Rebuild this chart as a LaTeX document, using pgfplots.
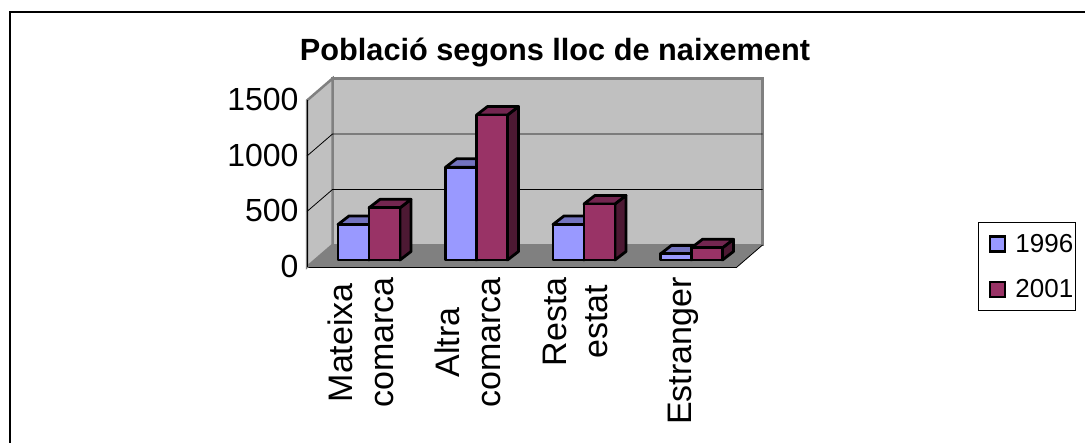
\documentclass[border=0pt]{standalone}
\usepackage{fontspec}
\setmainfont{Liberation Sans}
\usepackage{pgfplots}
\pgfplotsset{compat=1.18}
\definecolor{cA}{HTML}{9999FF}
\definecolor{cAt}{HTML}{7373BF}
\definecolor{cAs}{HTML}{4D4D80}
\definecolor{cB}{HTML}{993366}
\definecolor{cBt}{HTML}{732650}
\definecolor{cBs}{HTML}{4D1933}
\definecolor{wall}{HTML}{C0C0C0}
\definecolor{floorc}{HTML}{808080}
% #1 category centre (axis x), #2 left offset in pt, #3 value, #4 top colour, #5 side colour
\newcommand\barfaces[5]{%
  \pgfmathsetmacro\xL{#1+(#2)/107.5}%
  \pgfmathsetmacro\xR{#1+(#2+31)/107.5}%
  \pgfmathsetmacro\xLb{#1+(#2+11)/107.5}%
  \pgfmathsetmacro\xRb{#1+(#2+42)/107.5}%
  \pgfmathsetmacro\yB{7/0.111}%
  \pgfmathsetmacro\yT{7/0.111+#3}%
  \pgfmathsetmacro\yBb{15.5/0.111}%
  \pgfmathsetmacro\yTb{15.5/0.111+#3}%
  \addplot[forget plot,fill=#5,draw=black,line width=2.8pt,line join=round] coordinates {(\xR,\yB) (\xRb,\yBb) (\xRb,\yTb) (\xR,\yT)} --cycle;
  \addplot[forget plot,fill=#4,draw=black,line width=2.8pt,line join=round] coordinates {(\xL,\yT) (\xR,\yT) (\xRb,\yTb) (\xLb,\yTb)} --cycle;
}
\begin{document}
\begin{tikzpicture}[x=1pt,y=1pt]
\path[use as bounding box,fill=white] (0,0) rectangle (1085,443);
\draw[line width=1.2pt,black] (10,0) -- (10,431) -- (1085,431);
\begin{axis}[
  at={(307pt,176pt)},anchor=south west,
  scale only axis,width=430pt,height=166.5pt,
  xmin=0,xmax=4,ymin=0,ymax=1500,clip=false,
  axis line style={line width=0.8pt,black},
  axis x line*=bottom,axis y line*=left,
  axis line style={-},
  xtick={0.5,1.5,2.5,3.5},
  xticklabels={{Mateixa\\comarca},{Altra\\comarca},{Resta\\estat},{Estranger}},
  minor xtick={0,1,2,3,4},
  major x tick style={draw=none},
  minor tick length=4pt,
  minor tick style={black,line width=0.8pt},
  ytick={0,500,1000,1500},
  major y tick style={black,line width=0.8pt},
  major tick length=4pt,
  xticklabel style={rotate=90,anchor=east,align=center,font=\fontsize{34}{41}\selectfont,yshift=0pt,xshift=-7pt},
  yticklabel style={font=\fontsize{32}{36}\selectfont,/pgf/number format/assume math mode=true,xshift=-5pt,yshift=1pt},
  scaled y ticks=false,
  /pgf/number format/1000 sep={},
  title={\bfseries Població segons lloc de naixement},
  title style={at={(axis description cs:0.5767,1.25)},anchor=center,font=\fontsize{30.7}{34}\selectfont},
  legend style={at={(axis description cs:1.5605,0.27)},anchor=north west,draw=black,line width=0.8pt,
    font=\fontsize{26}{30}\selectfont,inner xsep=0pt,inner ysep=9.5pt,row sep=22pt,cells={anchor=west}},
  legend cell align=left,
  legend image code/.code={\path (0pt,0pt) (32.5pt,0pt); \draw[#1] (10.5pt,-7.5pt) rectangle (25.5pt,7.5pt);},
]
\addlegendimage{fill=cA,draw=black,line width=2.5pt}
\addlegendentry{1996}
\addlegendimage{fill=cB,draw=black,line width=2.5pt}
\addlegendentry{2001}
% walls and floor
\addplot[forget plot,fill=wall,draw=floorc,line width=2.5pt] coordinates {(0.2372,198) (4.2372,198) (4.2372,1698) (0.2372,1698)} --cycle;
\addplot[forget plot,fill=wall,draw=floorc,line width=2.5pt] coordinates {(0,0) (0.2372,198) (0.2372,1698) (0,1500)} --cycle;
\addplot[forget plot,fill=floorc,draw=none] coordinates {(0,0) (4,0) (4.2372,198) (0.2372,198)} --cycle;
\addplot[forget plot,black,line width=0.8pt] coordinates {(4,0) (4.2372,198)};
\addplot[forget plot,black,line width=0.8pt] coordinates {(0,500) (0.2372,698) (4.2372,698)};
\addplot[forget plot,black,line width=0.8pt] coordinates {(0,1000) (0.2372,1198) (4.2372,1198)};
\addplot[forget plot,black,line width=0.8pt] coordinates {(0,0) (0,1500)};
% 1996
\barfaces{0.5}{-22.75}{320}{cAt}{cAs}
\barfaces{1.5}{-22.75}{835}{cAt}{cAs}
\barfaces{2.5}{-22.75}{320}{cAt}{cAs}
\barfaces{3.5}{-22.75}{55}{cAt}{cAs}
\addplot[forget plot,ybar,bar width=31pt,bar shift=-7.25pt,yshift=7pt,fill=cA,draw=black,line width=2.8pt,line join=round]
  coordinates {(0.5,320) (1.5,835) (2.5,320) (3.5,55)};
% 2001
\barfaces{0.5}{8.25}{470}{cBt}{cBs}
\barfaces{1.5}{8.25}{1306}{cBt}{cBs}
\barfaces{2.5}{8.25}{505}{cBt}{cBs}
\barfaces{3.5}{8.25}{110}{cBt}{cBs}
\addplot[forget plot,ybar,bar width=31pt,bar shift=23.75pt,yshift=7pt,fill=cB,draw=black,line width=2.8pt,line join=round]
  coordinates {(0.5,470) (1.5,1306) (2.5,505) (3.5,110)};
\end{axis}
\end{tikzpicture}
\end{document}
